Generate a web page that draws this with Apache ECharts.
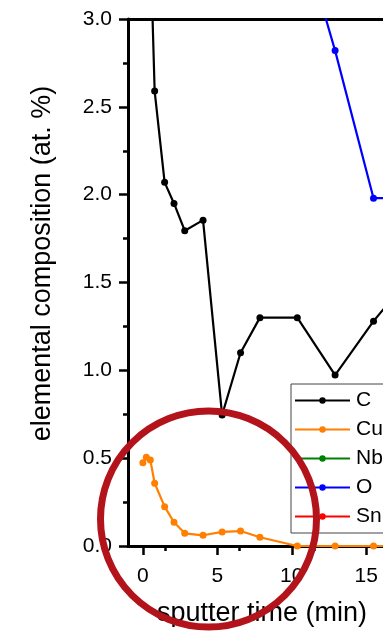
<!DOCTYPE html>
<html>
<head>
<meta charset="utf-8">
<title>Depth profile</title>
<script src="https://cdn.jsdelivr.net/npm/echarts@6/dist/echarts.min.js"></script>
<style>
  html, body { margin: 0; padding: 0; background: #fff; overflow: hidden; }
  #chart { width: 420px; height: 632px; }
</style>
</head>
<body>
<div id="chart"></div>
<script>
// Sputter times (min) shared by all elements
const sputterTime = [0, 0.23, 0.5, 0.79, 1.46, 2.09, 2.81, 4.04, 5.32, 6.56, 7.86, 10.37, 12.91, 15.49, 18.05];

// Elemental composition (at. %)
const carbon  = [9.0, 6.5, 3.44, 2.59, 2.07, 1.95, 1.795, 1.855, 0.746, 1.10, 1.30, 1.30, 0.973, 1.28, 1.54];
const copper  = [0.474, 0.505, 0.489, 0.357, 0.224, 0.135, 0.072, 0.061, 0.080, 0.085, 0.050, 0, 0, 0, 0];
const niobium = [22, 30, 38, 45, 52, 57, 61, 64, 66, 67, 68, 69, 70, 70, 71];
const oxygen  = [30, 25, 20, 16, 12, 10, 8.5, 7, 6, 5, 4.5, 3.56, 2.82, 1.98, 1.98];
const tin     = [8, 10, 12, 14, 16, 17, 18, 19, 20, 20, 21, 21, 21, 22, 22];

const seriesNames = ['C', 'Cu', 'Nb', 'O', 'Sn'];
const seriesColors = ['#000000', '#ff8000', '#008000', '#0000ff', '#ff0000'];
const seriesValues = [carbon, copper, niobium, oxygen, tin];

const yTicks = [0, 0.5, 1.0, 1.5, 2.0, 2.5, 3.0];
const xTicks = [0, 5, 10, 15];

const font = 'Liberation Sans, Arial, sans-serif';

const chart = echarts.init(document.getElementById('chart'));

const series = seriesNames.map((name, i) => ({
  name: name,
  type: 'line',
  clip: true,
  data: sputterTime.map((t, k) => [t, seriesValues[i][k]]),
  symbol: name === 'Sn' ? 'none' : 'circle',
  symbolSize: 7,
  showAllSymbol: true,
  lineStyle: { color: seriesColors[i], width: 2.2 },
  itemStyle: { color: seriesColors[i] },
  emphasis: { disabled: true },
  z: 2 + i
}));

function axisLine() {
  return { show: true, onZero: false, lineStyle: { color: '#000', width: 3 } };
}
function tickStyle() {
  return { color: '#000', width: 2.5 };
}

chart.setOption({
  animation: false,
  backgroundColor: '#fff',
  grid: { left: 128, right: 24, top: 19, bottom: 86, containLabel: false },
  xAxis: [{
    type: 'value',
    min: -1,
    max: 17,
    interval: 5,
    position: 'bottom',
    axisLine: axisLine(),
    axisTick: { show: true, inside: false, length: 9, lineStyle: tickStyle(), customValues: xTicks },
    minorTick: { show: true, splitNumber: 2, length: 5, lineStyle: tickStyle() },
    splitLine: { show: false },
    axisLabel: { color: '#000', fontSize: 21, fontFamily: font, margin: 20, customValues: xTicks,
      formatter: v => String(v) },
    name: 'sputter time (min)',
    nameLocation: 'middle',
    nameGap: 54,
    nameTextStyle: { color: '#000', fontSize: 27, fontFamily: font }
  }, {
    type: 'value',
    min: -1,
    max: 17,
    position: 'top',
    axisLine: axisLine(),
    axisTick: { show: false },
    axisLabel: { show: false },
    splitLine: { show: false }
  }],
  yAxis: {
    type: 'value',
    min: 0,
    max: 3,
    interval: 0.5,
    axisLine: axisLine(),
    axisTick: { show: true, inside: false, length: 9, lineStyle: tickStyle() },
    minorTick: { show: true, splitNumber: 2, length: 5, lineStyle: tickStyle() },
    splitLine: { show: false },
    axisLabel: { color: '#000', fontSize: 21, fontFamily: font, margin: 16,
      formatter: v => yTicks.includes(v) ? v.toFixed(1) : '' },
    name: 'elemental composition (at. %)',
    nameLocation: 'middle',
    nameGap: 72,
    nameRotate: 90,
    nameTextStyle: { color: '#000', fontSize: 27, fontFamily: font, padding: [0, 0, 0, 38] }
  },
  legend: {
    show: true,
    orient: 'vertical',
    left: 291,
    top: 384,
    data: seriesNames,
    itemWidth: 55,
    itemHeight: 8,
    itemGap: 8,
    padding: [6, 40, 6, 3],
    backgroundColor: '#fff',
    borderColor: '#444',
    borderWidth: 1,
    borderRadius: 0,
    selectedMode: false,
    textStyle: { color: '#000', fontSize: 21, fontFamily: font, lineHeight: 21, padding: [0, 0, 0, 1] }
  },
  series: series,
  graphic: [{
    type: 'circle',
    z: 100,
    silent: true,
    shape: { cx: 208.5, cy: 519, r: 108 },
    style: { fill: 'none', stroke: '#b3141b', lineWidth: 7 }
  }]
});
</script>
</body>
</html>
